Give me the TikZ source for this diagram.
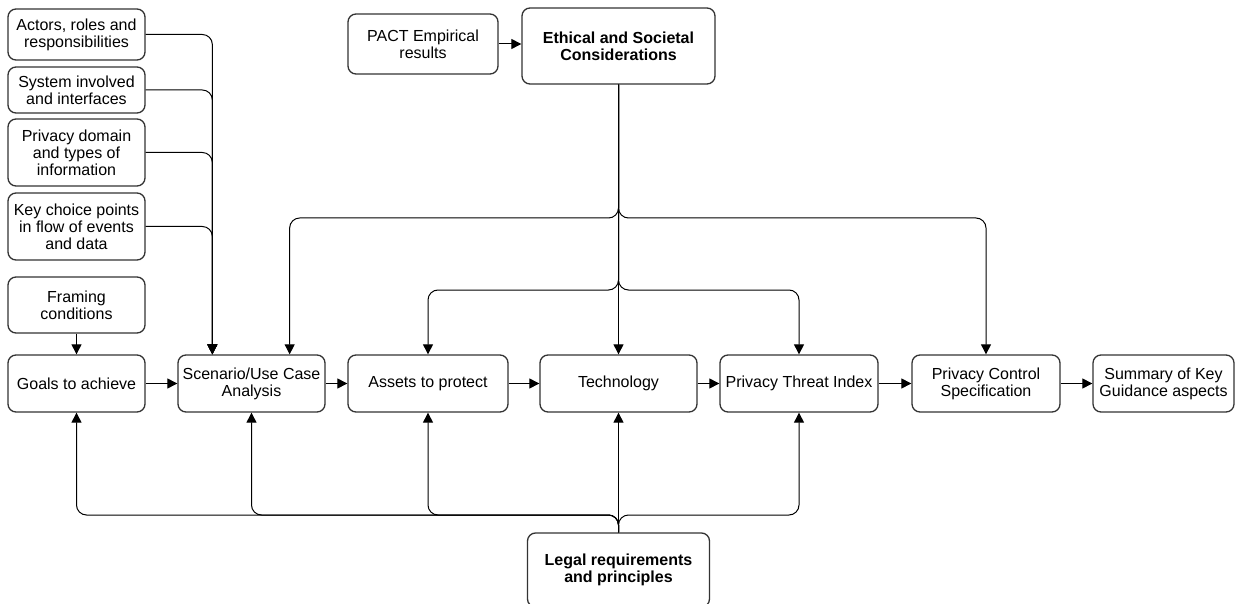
\documentclass[tikz,border=0pt]{standalone}
\usepackage{fontspec}
\setmainfont{Liberation Sans}
\usetikzlibrary{calc,positioning,arrows.meta}
\tikzset{
>={Triangle[length=10pt,width=10pt]},
  punkt/.style={
    rectangle,
    rounded corners=8pt,
    draw=black!80, line width=1.3pt,
    align=center,
    inner sep=2pt,
    font=\fontsize{16}{17}\selectfont},
  bold/.style={font=\fontsize{16}{17}\selectfont\bfseries},
  line/.style={draw, line width=1pt, rounded corners=10pt, ->},
}

\begin{document}
\begin{tikzpicture}
  [x=1pt, y=-1pt]
  \useasboundingbox (0,0) rectangle (1242,604);
  % left column
  \node[punkt, minimum width=137pt, minimum height=51pt] (act) at (76.5,34.5) {Actors, roles and\\responsibilities};
  \node[punkt, minimum width=137pt, minimum height=46pt] (sys) at (76.5,90) {System involved\\and interfaces};
  \node[punkt, minimum width=137pt, minimum height=67pt] (dom) at (76.5,152.5) {Privacy domain\\and types of\\information};
  \node[punkt, minimum width=137pt, minimum height=67pt] (key) at (76.5,226.5) {Key choice points\\in flow of events\\and data};
  \node[punkt, minimum width=137pt, minimum height=56pt] (frame) at (76.5,305) {Framing\\conditions};
  % main row
  \node[punkt, minimum width=137pt, minimum height=57pt] (goal) at (76.5,383.5) {Goals to achieve};
  \node[punkt, minimum width=147pt, minimum height=57pt] (scen) at (251.5,383.5) {Scenario/Use Case\\Analysis};
  \node[punkt, minimum width=160pt, minimum height=57pt] (asset) at (428,383.5) {Assets to protect};
  \node[punkt, minimum width=157pt, minimum height=57pt] (tech) at (618.5,383.5) {Technology};
  \node[punkt, minimum width=158pt, minimum height=57pt] (threat) at (799,383.5) {Privacy Threat Index};
  \node[punkt, minimum width=148pt, minimum height=57pt] (control) at (986,383.5) {Privacy Control\\Specification};
  \node[punkt, minimum width=141pt, minimum height=57pt] (summary) at (1163.5,383.5) {Summary of Key\\Guidance aspects};
  % top and bottom
  \node[punkt, minimum width=150pt, minimum height=60pt] (pact) at (423,44) {PACT Empirical\\results};
  \node[punkt, bold, minimum width=193pt, minimum height=76pt] (ethic) at (618.5,46) {Ethical and Societal\\Considerations};
  \node[punkt, bold, minimum width=182pt, minimum height=74pt] (legal) at (618.5,570) {Legal requirements\\and principles};

  \coordinate (scenA) at ($(scen.north west)+(35,0)$);
  \coordinate (scenB) at ($(scen.north east)+(-36,0)$);
  \coordinate (hi) at (0,218);
  \coordinate (lo) at (0,290);
  \coordinate (bot) at (0,515);

  %% inputs to the scenario
  \foreach \n in {act,sys,dom,key}
    \draw[line] (\n.east) -| (scenA);
  \draw[line] (frame) -- (goal);
  %% main flow
  \draw[line] (goal) -- (scen);
  \draw[line] (scen) -- (asset);
  \draw[line] (asset) -- (tech);
  \draw[line] (tech) -- (threat);
  \draw[line] (threat) -- (control);
  \draw[line] (control) -- (summary);
  \draw[line] (pact.east) -- (pact.east -| ethic.west);
  %% ethical branches
  \draw[line] (ethic.south) -- (tech.north);
  \draw[line] (ethic.south) |- (hi -| scenB) -- (scenB);
  \draw[line] (ethic.south) |- (hi -| control.north) -- (control.north);
  \draw[line] (ethic.south) |- (lo -| asset.north) -- (asset.north);
  \draw[line] (ethic.south) |- (lo -| threat.north) -- (threat.north);
  %% legal branches
  \draw[line] (legal.north) -- (tech.south);
  \foreach \n in {goal,scen,asset,threat}
    \draw[line] (legal.north) |- (bot -| \n.south) -- (\n.south);
\end{tikzpicture}
\end{document}
